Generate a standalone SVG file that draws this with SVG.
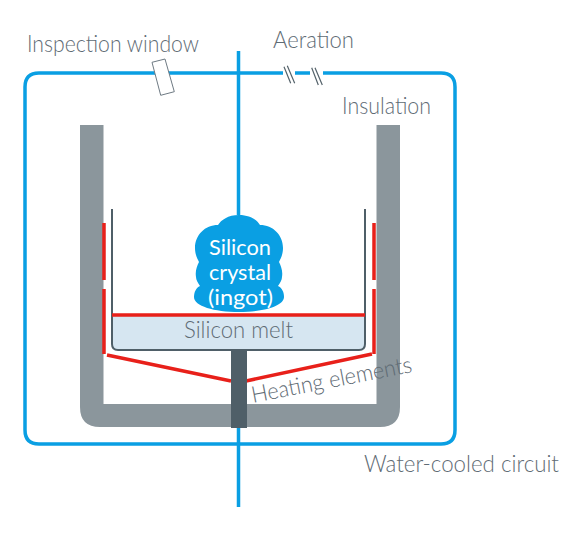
<svg xmlns="http://www.w3.org/2000/svg" width="570" height="535" viewBox="0 0 570 535">
<style>
text{font-family:"Lato","Liberation Sans",sans-serif;font-weight:300;font-size:23px;fill:#5f6c75}
.b{fill:none;stroke:#0a9fe3;stroke-width:3.5}
.r{fill:none;stroke:#e8201a;stroke-width:3.5}
.s{fill:none;stroke:#55636b;stroke-width:1.2}
.w{fill:#fff;font-size:21px;font-weight:400}
</style>
<g id="connectors">
<path class="b" d="M283 73H39Q25 73 25 87V430Q25 444 39 444H441Q455 444 455 430V87Q455 73 441 73H323M310 73H295"/>
<path class="b" d="M238.500 51V215M238.500 425V507"/>
<path class="s" d="M284 66.700L290.700 83.300M287.300 65.700L294.700 83.300M311.700 67.700L318.300 85M315 67.700L322.300 85"/>
</g>
<g id="inspection-window"><polygon points="152,62.300 165,59 174.300,91.700 160.700,95.300" fill="#fff" stroke="#6e7a83" stroke-width="1"/></g>
<g id="insulation"><path d="M80 125H103.500V404H376.500V125H400V407Q400 427 380 427H100Q80 427 80 407Z" fill="#8b969c"/></g>
<g id="crucible">
<path d="M112 316H365V344Q365 350 359 350H118Q112 350 112 344Z" fill="#d6e6f1"/>
<path d="M112 209V344Q112 350 118 350H359Q365 350 365 344V209" fill="none" stroke="#4f5f68" stroke-width="2"/>
</g>
<g id="crystal">
<path d="M239 215C250 215 257 220 260 225C273 225 283 235 283 248C283 254 281 258 279 262C281 266 283 271 282 277C282 280 280 283 278 286C282 288 284 292 284 297C284 306 264 312 239 312C214 312 194 306 194 297C194 292 196 288 200 286C198 283 196 280 196 277C195 271 197 266 199 262C197 258 195 254 195 248C195 235 205 225 218 225C221 220 228 215 239 215Z" fill="#0a9fe3"/>
<text class="w" x="209" y="255" textLength="62" lengthAdjust="spacingAndGlyphs">Silicon</text>
<text class="w" x="209" y="280" textLength="62" lengthAdjust="spacingAndGlyphs">crystal</text>
<text class="w" x="208" y="305" textLength="65" lengthAdjust="spacingAndGlyphs">(ingot)</text>
</g>
<g id="heating-elements">
<path class="r" d="M104 223V280M104 289V354M374 223V280M374 289V354M112 315H365M107 355L231 381M246 381L372 354"/>
<rect x="231" y="350" width="16" height="78" fill="#4f5f68"/>
</g>
<g id="labels">
<text x="27" y="52" textLength="172" lengthAdjust="spacingAndGlyphs">Inspection window</text>
<text x="273" y="48" textLength="81" lengthAdjust="spacingAndGlyphs">Aeration</text>
<text x="342" y="114" textLength="89" lengthAdjust="spacingAndGlyphs">Insulation</text>
<text x="184" y="338" textLength="109" lengthAdjust="spacingAndGlyphs">Silicon melt</text>
<text transform="translate(253 403) rotate(-11)" textLength="163" lengthAdjust="spacingAndGlyphs">Heating elements</text>
<text x="364" y="472" textLength="195" lengthAdjust="spacingAndGlyphs">Water-cooled circuit</text>
</g>
</svg>
